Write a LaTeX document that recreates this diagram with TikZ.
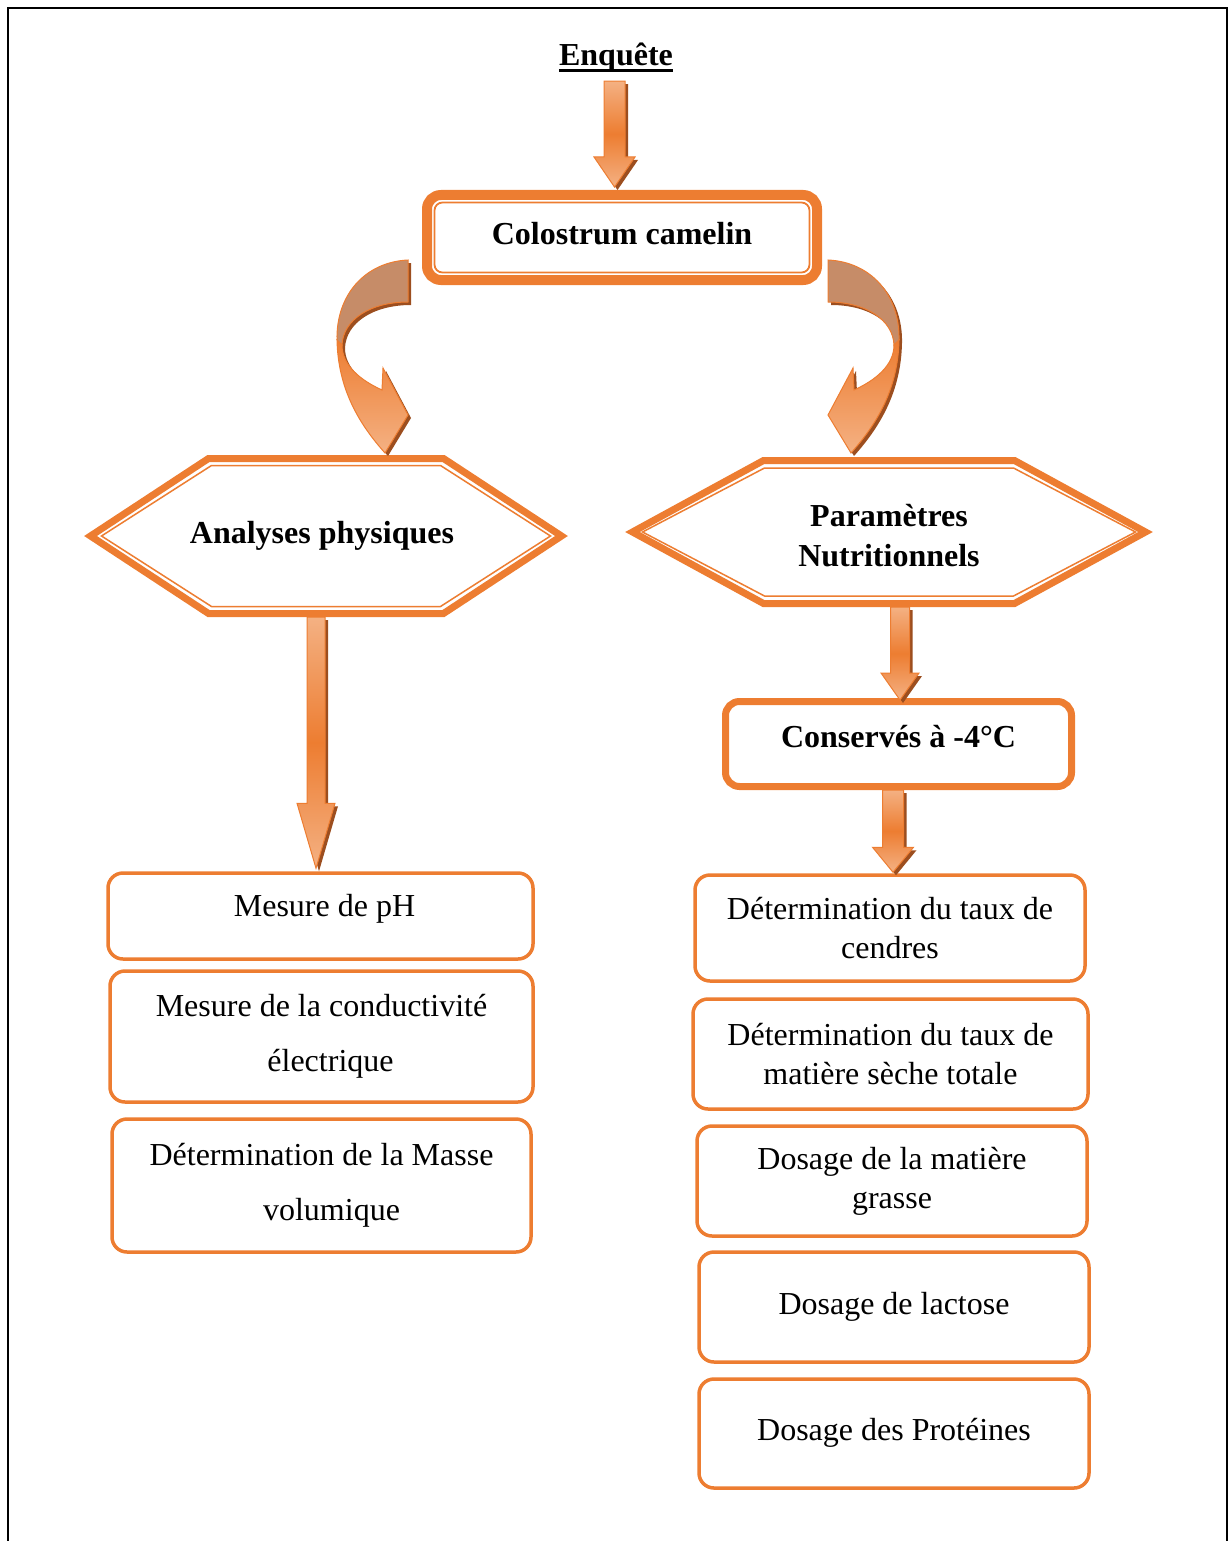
\documentclass[tikz,border=0pt]{standalone}
\usepackage{fontspec}
\setmainfont{Liberation Serif}
\usetikzlibrary{calc}

\definecolor{orangeline}{HTML}{ED7D31}
\definecolor{arrowlight}{HTML}{F4B183}
\definecolor{arrowtan}{HTML}{C68C68}
\definecolor{arrowshadow}{HTML}{9C4E1F}

\tikzset{
  plaintext/.style={font=\fontsize{32}{39}\selectfont, align=center, inner sep=0pt},
  boldtext/.style={font=\bfseries\fontsize{32}{40}\selectfont, align=center, inner sep=0pt},
  oneline/.style={text height=22pt, text depth=8pt},
  listbox/.style={plaintext, draw=orangeline, line width=3.5pt, rounded corners=15pt},
  widebox/.style={listbox, font=\fontsize{32}{55}\selectfont},
  hexouter/.style={draw=orangeline, line width=7pt, fill=white},
  hexinner/.style={draw=orangeline, line width=1.5pt},
  arrowbody/.style={draw=orangeline, line width=1pt, top color=arrowlight, bottom color=arrowlight, middle color=orangeline},
  arrowface/.style={draw=orangeline, line width=1pt, top color=orangeline, bottom color=arrowlight},
  pics/bentarrow/.style={code={
    % shadow
    \fill[arrowshadow, shift={(#1,3)}] (0,0) .. controls (-43,2) and (-72,35) .. (-71,80)
      .. controls (-70,130) and (-48,165) .. (-23,193) -- (0,155) -- (-25,108) -- (-26,130)
      .. controls (-48,120) and (-66,105) .. (-66,85) .. controls (-65,60) and (-38,42) .. (0,42) -- cycle;
    % back face
    \path[draw=orangeline, line width=1pt, fill=arrowtan] (0,0) .. controls (-43,2) and (-72,35) .. (-71,80)
      -- (-66,85) .. controls (-65,60) and (-38,42) .. (0,42) -- cycle;
    % front face
    \path[arrowface] (-71,80) .. controls (-70,130) and (-48,165) .. (-23,193) -- (0,155) -- (-25,108)
      -- (-26,130) .. controls (-48,120) and (-66,105) .. (-66,85) -- cycle;
  }}
}

% hexagon frame: style, centre, half width, half height, run of the slanted side
\newcommand{\hexframe}[5]{%
  \draw[#1] ($(#2)+(-#3,0)$) -- ($(#2)+(-#3+#5,-#4)$) -- ($(#2)+(#3-#5,-#4)$) -- ($(#2)+(#3,0)$)
    -- ($(#2)+(#3-#5,#4)$) -- ($(#2)+(-#3+#5,#4)$) -- cycle;}

% block arrow: from, to, shaft half width, head half width, head length
\newcommand{\blockarrow}[5]{%
  \path (#1) coordinate (ba-s) (#2) coordinate (ba-e);
  \fill[arrowshadow] ($(ba-e |- ba-s)+(-#3+3,3)$) -- ($(ba-e)+(-#3+3,-#5+3)$) -- ($(ba-e)+(-#4+3,-#5+3)$)
    -- ($(ba-e)+(3,3)$) -- ($(ba-e)+(#4+3,-#5+3)$) -- ($(ba-e)+(#3+3,-#5+3)$) -- ($(ba-e |- ba-s)+(#3+3,3)$) -- cycle;
  \path[arrowbody] ($(ba-e |- ba-s)+(-#3,0)$) -- ($(ba-e)+(-#3,-#5)$) -- ($(ba-e)+(-#4,-#5)$)
    -- (ba-e) -- ($(ba-e)+(#4,-#5)$) -- ($(ba-e)+(#3,-#5)$) -- ($(ba-e |- ba-s)+(#3,0)$) -- cycle;}

\begin{document}
\begin{tikzpicture}[x=1pt, y=-1pt]
    \useasboundingbox (0,0) rectangle (1229,1541);
    % page frame
    \draw[line width=2.5pt] (7.8,1541) -- (7.8,8) -- (1227,8) -- (1227,1541);

    % top
    \node[boldtext, anchor=base] (enq) at (616,66) {Enquête};
    \draw[line width=2.5pt] ($(enq.base west)+(0,4.5)$) -- ($(enq.base east)+(0,4.5)$);
    \node[boldtext, oneline, text depth=9pt, draw=orangeline, line width=10pt, rounded corners=14pt,
      minimum width=390pt, minimum height=85pt] (colo) at (622,237.5) {Colostrum camelin};
    \draw[orangeline, line width=1.8pt, rounded corners=8pt]
      ($(colo.south west)+(12.5,-12.5)$) rectangle ($(colo.north east)+(-12.5,12.5)$);

    % hexagons
    \coordinate (anahex) at (326,536);
    \hexframe{hexouter}{anahex}{235.5}{77.5}{118}
    \hexframe{hexinner}{anahex}{224.5}{70.5}{110}
    \node[boldtext, oneline] (anaphy) at (322,536) {Analyses physiques};
    \coordinate (parhex) at (889,532);
    \hexframe{hexouter}{parhex}{256.5}{71.5}{131}
    \hexframe{hexinner}{parhex}{246.5}{64}{122}
    \node[boldtext] (paranut) at (889,536) {Paramètres\\Nutritionnels};

    % storage
    \node[boldtext, oneline, text depth=16pt, draw=orangeline, line width=7pt, rounded corners=14pt,
      minimum width=346pt, minimum height=85pt] (cons) at (898.5,744) {Conservés à -4°C};

    % physical analyses
    \node[listbox, oneline, text depth=21pt, minimum width=425pt, minimum height=86pt] (mesph) at (320.5,916) {\hspace*{8pt}Mesure de pH};
    \node[widebox, minimum width=423pt, minimum height=131pt] (mescond) at (321.5,1036.5) {Mesure de la conductivité\\\hspace*{18pt}électrique};
    \node[widebox, minimum width=419pt, minimum height=133pt] (masvol) at (321.5,1185.5) {Détermination de la Masse\\\hspace*{20pt}volumique};

    % nutritional parameters
    \node[listbox, minimum width=390pt, minimum height=106pt] (cendres) at (890,928) {Détermination du taux de\\cendres};
    \node[listbox, minimum width=395pt, minimum height=110pt] (mst) at (890.5,1054) {Détermination du taux de\\matière sèche totale};
    \node[listbox, minimum width=390pt, minimum height=110pt] (mg) at (892,1181) {Dosage de la matière\\grasse};
    \node[listbox, oneline, minimum width=390pt, minimum height=110pt] (lact) at (894,1307) {Dosage de lactose};
    \node[listbox, oneline, minimum width=390pt, minimum height=109pt] (prot) at (894,1433.5) {Dosage des Protéines};

    % arrows
    \blockarrow{$(enq.south)+(0,8)$}{$(colo.north)+(-7.5,-3)$}{10.5}{20.5}{30}
    \blockarrow{$(anahex)+(0,81)$}{$(mesph.north)+(-4.5,-3)$}{9}{19}{65}
    \blockarrow{$(parhex)+(0,75)$}{$(cons.north)+(1.5,2)$}{9.5}{19}{27}
    \blockarrow{$(cons.south)$}{$(cendres.north)+(3,-1)$}{10.5}{20.5}{25}
    \pic at ($(colo.south west)+(-14,-25)$) {bentarrow=3};
    \pic[xscale=-1] at ($(colo.south east)+(6,-25)$) {bentarrow=-3};
\end{tikzpicture}
\end{document}
